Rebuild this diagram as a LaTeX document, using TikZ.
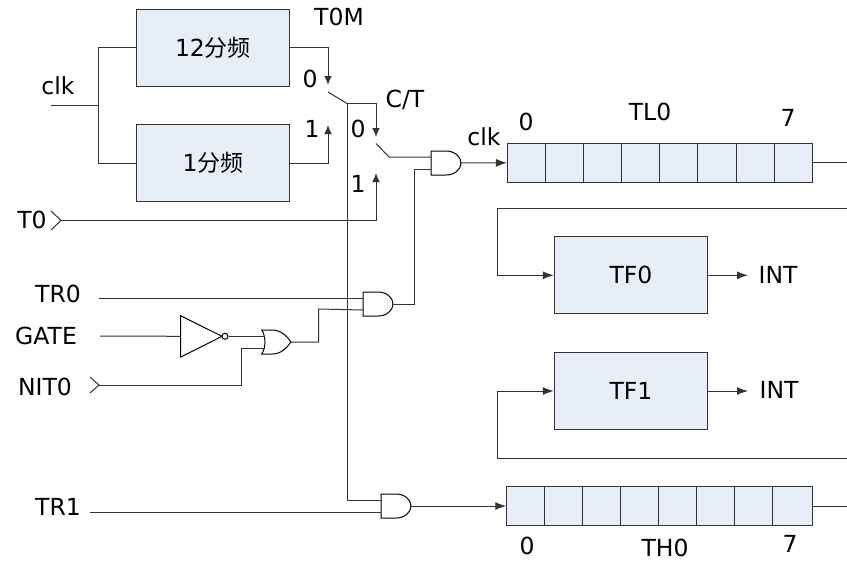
\documentclass[tikz,border=0pt]{standalone}
\usepackage{fontspec}
\setmainfont{DejaVu Sans}
\newfontfamily\cjk{Noto Sans CJK SC}
\usetikzlibrary{arrows.meta,calc}
\definecolor{boxfill}{HTML}{E8EEF8}
\definecolor{wire}{HTML}{333333}
\tikzset{
  wires/.style={draw=wire,line width=1pt,line join=miter},
  arr/.style={wires,-{Latex[length=11pt,width=8pt]}},
  smallarr/.style={wires,-{Latex[length=9pt,width=7.5pt]}},
  blockbox/.style={draw=wire,line width=1pt,fill=boxfill,minimum width=153pt,minimum height=77pt,inner sep=0pt,font=\fontsize{23.5}{26}\selectfont},
  regbox/.style={draw=wire,line width=1pt,fill=boxfill,minimum width=305.5pt,minimum height=39pt,inner sep=0pt},
  lbl/.style={inner sep=0pt,font=\fontsize{23.5}{26}\selectfont},
  gatepath/.style={draw=black,line width=1pt,fill=white}
}
\newcommand{\andgate}[3]{% left x, top y, name
  \path[gatepath] (#1,#2) -- (#1+15,#2) arc[start angle=90,end angle=-90,x radius=15pt,y radius=12pt] -- (#1,#2+24) -- cycle;
  \coordinate (#3a) at (#1,#2+6);
  \coordinate (#3b) at (#1,#2+18);
  \coordinate (#3o) at (#1+30,#2+12);
}
\begin{document}
\begin{tikzpicture}[x=1pt,y=-1pt]
\useasboundingbox (0,0) rectangle (847,562);
% blocks
\node[blockbox] (div12) at (213,47.5) {12{\cjk\fontsize{23}{26}\selectfont 分频}};
\node[blockbox] (div1) at (213,163) {1{\cjk\fontsize{23}{26}\selectfont 分频}};
\node[blockbox,minimum width=153.5pt] (tf0) at (631,275.3) {TF0};
\node[blockbox,minimum width=153.5pt] (tf1) at (631,391) {TF1};
\node[regbox] (tl0) at (660.2,162.8) {};
\node[regbox] (th0) at (659.5,506) {};
\foreach \i in {1,...,7}{
  \draw[wires] ($(tl0.north west)+(38.2*\i,0)$) -- ($(tl0.south west)+(38.2*\i,0)$);
  \draw[wires] ($(th0.north west)+(38.1*\i,0)$) -- ($(th0.south west)+(38.1*\i,0)$);
}
% coordinates
\coordinate (clkin) at (50.7,105);
\coordinate (clkj) at (98.5,105);
\coordinate (swa) at (328,92);
\coordinate (swb) at (347,103.5);
\coordinate (swc) at (376,143.5);
\coordinate (swd) at (389,157);
\coordinate (t0in) at (61,220.5);
\coordinate (tr0in) at (99,298);
\coordinate (gatein) at (100,336);
\coordinate (nitin) at (99,385);
\coordinate (tr1in) at (90,512);
\coordinate (tl0out) at (847,162.8);
\coordinate (th0out) at (847,506);
\coordinate (fbtop) at (847,208);
\coordinate (fbbot) at (847,458);
\coordinate (int0) at (748,275.3);
\coordinate (int1) at (748,391);
% gates
\andgate{431}{151}{ga}
\andgate{363}{292}{gb}
\andgate{381}{494}{gc}
% OR gate
\path[gatepath] (261.7,330) -- (272,330) .. controls (281,330) and (287,336) .. (291,342)
  .. controls (287,348) and (281,354) .. (272,354) -- (261.7,354)
  .. controls (266,348) and (266,336) .. (261.7,330) -- cycle;
\coordinate (ora) at (264.5,336.3);
\coordinate (orb) at (264.5,348);
\coordinate (oro) at (291,342);
% inverter
\path[gatepath] (180.7,315.7) -- (222,336.3) -- (180.7,357) -- cycle;
\node[circle,draw=black,line width=1pt,fill=white,minimum size=6pt,inner sep=0pt] (bub) at (225,336.3) {};
\coordinate (invin) at (180.7,336.3);
% clk fan-out
\draw[wires] (clkin) -- (clkj);
\draw[wires] (div12.west) -- (div12.west -| clkj) -- (div1.west -| clkj) -- (div1.west);
% switch 1
\draw[smallarr] (div12.east) -| (328,85);
\draw[smallarr] (div1.east) -| (328,125);
\draw[wires] (swa) -- (swb);
\draw[smallarr] (swb) -- (376,103.5) -- (376,137);
\draw[wires] (swb) |- (gca);
% switch 2
\draw[wires] (swc) -- (swd) -- (gaa);
\draw[wires] (gab) -- (414,169) |- (gbo);
\draw[smallarr] (t0in) -| (376,173);
\draw[arr] (gao) -- (tl0.west);
% gate b
\draw[wires] (tr0in) -- (gba);
\draw[wires] (gbb) -- (318.5,309) |- (oro);
\draw[wires] (gatein) -- (invin);
\draw[wires] (bub.east) -- (ora);
\draw[wires] (nitin) -| (241.7,348) -- (orb);
% chevrons
\draw[wires] (51,211) -- (t0in) -- (51,230);
\draw[wires] (90,377) -- (nitin) -- (90,393);
% gate c
\draw[wires] (tr1in) -- (gcb);
\draw[arr] (gco) -- (th0.west);
% register outputs and flags
\draw[wires] (tl0.east) -- (tl0out);
\draw[wires] (th0.east) -- (th0out);
\draw[arr] (fbtop) -- (497,208) |- (tf0.west);
\draw[arr] (fbbot) -- (497,458) |- (tf1.west);
\draw[arr] (tf0.east) -- (int0);
\draw[arr] (tf1.east) -- (int1);
% labels
\node[lbl] (lclk) at (58,86) {clk};
\node[lbl] (lt0m) at (339,17) {T0M};
\node[lbl] (l0a) at (310,79) {0};
\node[lbl] (l1a) at (312,129) {1};
\node[lbl] (lct) at (405,100) {C/T};
\node[lbl] (l0b) at (358,129) {0};
\node[lbl] (l1b) at (358,184) {1};
\node[lbl] (lclk2) at (484,137) {clk};
\node[lbl] (l0c) at (526,122) {0};
\node[lbl] (ltl0) at (650,112) {TL0};
\node[lbl] (l7a) at (788,118) {7};
\node[lbl] (lt0) at (32,220) {T0};
\node[lbl] (ltr0) at (58,294) {TR0};
\node[lbl] (lgate) at (46,336) {GATE};
\node[lbl] (lnit) at (45,387) {NIT0};
\node[lbl] (ltr1) at (58,507) {TR1};
\node[lbl] (lint0) at (778,275) {INT};
\node[lbl] (lint1) at (779,390) {INT};
\node[lbl] (l0d) at (527,546) {0};
\node[lbl] (lth0) at (665,548) {TH0};
\node[lbl] (l7b) at (790,544) {7};
\end{tikzpicture}
\end{document}
